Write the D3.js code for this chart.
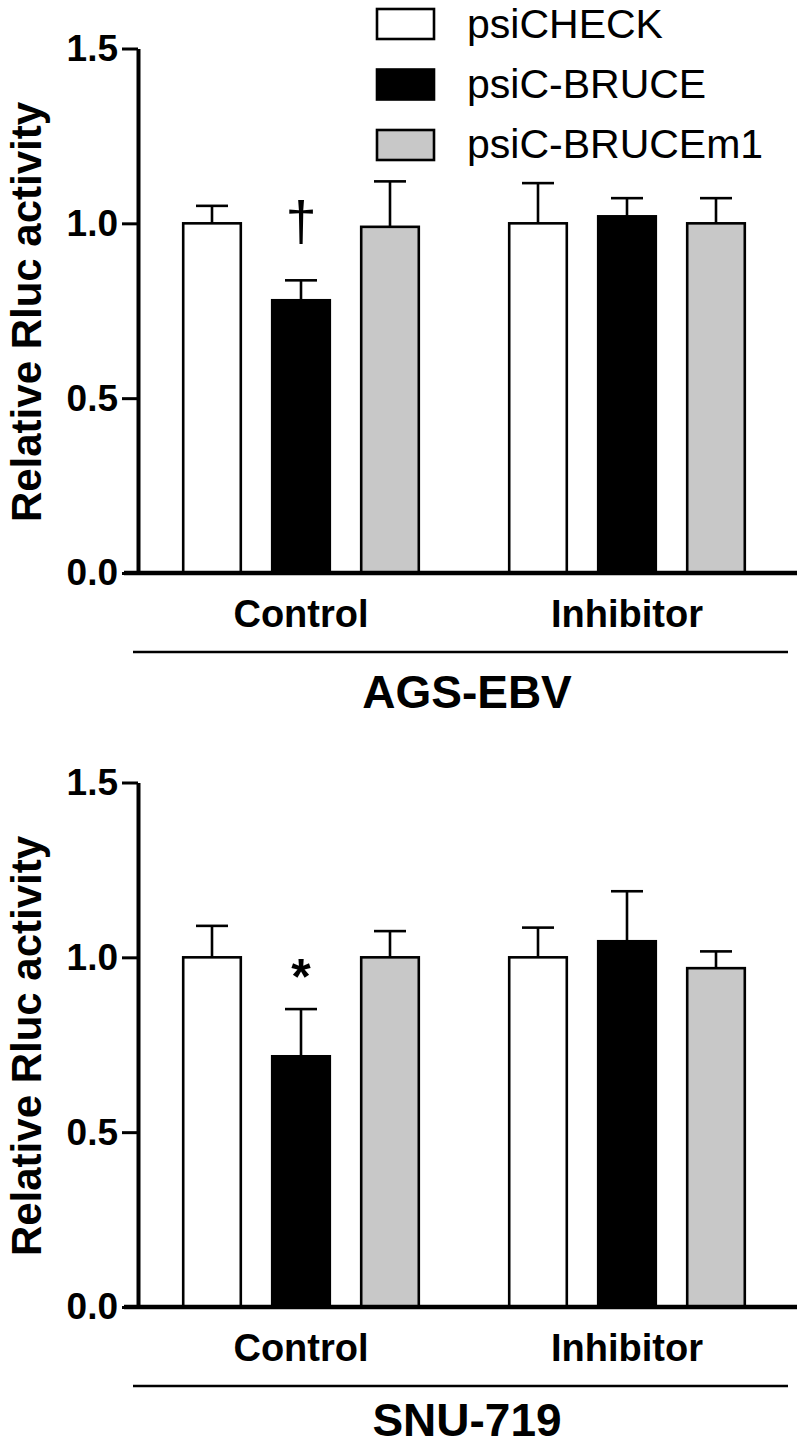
<!DOCTYPE html>
<html>
<head>
<meta charset="utf-8">
<script src="https://cdn.jsdelivr.net/npm/d3@7"></script>
<style>
  html, body { margin: 0; padding: 0; background: #fff; }
  svg { display: block; }
  text { font-family: "Liberation Sans", Arial, Helvetica, sans-serif; fill: #000; }
</style>
</head>
<body>
<svg id="chart" width="800" height="1447"></svg>
<script>
// ---- data ----
const groups = ["Control", "Inhibitor"];
const series = ["psiCHECK", "psiC-BRUCE", "psiC-BRUCEm1"];
const seriesColors = ["#ffffff", "#000000", "#c8c8c8"];
const yTicks = [0, 0.5, 1.0, 1.5];
const yLabel = "Relative Rluc activity";

// AGS-EBV panel: [Control, Inhibitor] per series
const agsMeans = {
  "psiCHECK":     [1.00, 1.00],
  "psiC-BRUCE":   [0.78, 1.02],
  "psiC-BRUCEm1": [0.99, 1.00]
};
const agsErrors = {
  "psiCHECK":     [0.05, 0.115],
  "psiC-BRUCE":   [0.057, 0.052],
  "psiC-BRUCEm1": [0.13, 0.072]
};
// SNU-719 panel
const snuMeans = {
  "psiCHECK":     [1.00, 1.00],
  "psiC-BRUCE":   [0.717, 1.046],
  "psiC-BRUCEm1": [1.00, 0.969]
};
const snuErrors = {
  "psiCHECK":     [0.09, 0.085],
  "psiC-BRUCE":   [0.135, 0.143],
  "psiC-BRUCEm1": [0.075, 0.048]
};

const panels = [
  { title: "AGS-EBV", titleY: 708, means: agsMeans, errors: agsErrors, mark: "\u2020", markGroup: "Control", markSeries: "psiC-BRUCE" },
  { title: "SNU-719", titleY: 702, means: snuMeans, errors: snuErrors, mark: "*", markGroup: "Control", markSeries: "psiC-BRUCE" }
];

// ---- drawing ----
const svg = d3.select("#chart");
const panelOffset = 734;

const x0 = d3.scaleBand().domain(groups).range([138, 790]).padding(0);
const x1 = d3.scaleBand().domain(series)
  .range([x0.bandwidth() / 2 - 133.5, x0.bandwidth() / 2 + 133.5])
  .paddingInner(0.326).paddingOuter(0.163);
const color = d3.scaleOrdinal().domain(series).range(seriesColors);

panels.forEach((p, k) => {
  const off = k * panelOffset;
  const g = svg.append("g").attr("transform", `translate(0,${off})`);
  const y = d3.scaleLinear().domain([0, 1.5]).range([573, 48.5]);

  const rows = [];
  groups.forEach((grp, gi) => {
    series.forEach(s => {
      rows.push({ group: grp, series: s, value: p.means[s][gi], err: p.errors[s][gi] });
    });
  });

  // error bars (upper only), drawn before bars
  const eb = g.append("g");
  rows.forEach(d => {
    const cx = x0(d.group) + x1(d.series) + x1.bandwidth() / 2;
    eb.append("line")
      .attr("x1", cx).attr("x2", cx)
      .attr("y1", y(d.value)).attr("y2", y(d.value + d.err))
      .attr("stroke", "#000").attr("stroke-width", 2.6);
    eb.append("line")
      .attr("x1", cx - 16).attr("x2", cx + 16)
      .attr("y1", y(d.value + d.err)).attr("y2", y(d.value + d.err))
      .attr("stroke", "#000").attr("stroke-width", 2.6);
  });

  // bars
  g.append("g").selectAll("rect").data(rows).join("rect")
    .attr("x", d => x0(d.group) + x1(d.series) + 1.2)
    .attr("width", x1.bandwidth() - 2.4)
    .attr("y", d => y(d.value))
    .attr("height", d => y(0) - y(d.value))
    .attr("fill", d => color(d.series))
    .attr("stroke", "#000").attr("stroke-width", 2.6);

  // y axis
  const yAxis = d3.axisLeft(y).tickValues(yTicks).tickFormat(d3.format(".1f"))
    .tickSize(16).tickSizeOuter(0).tickPadding(4);
  const ya = g.append("g").attr("transform", "translate(138,0)").call(yAxis);
  ya.select(".domain").attr("stroke", "#000").attr("stroke-width", 4);
  ya.selectAll(".tick line").attr("stroke", "#000").attr("stroke-width", 3);
  ya.selectAll(".tick text")
    .attr("font-size", 37).attr("font-weight", "bold")
    .attr("font-family", "'Liberation Sans', Arial, sans-serif")
    .attr("fill", "#000");

  // x baseline
  g.append("line")
    .attr("x1", 124).attr("x2", 797)
    .attr("y1", y(0)).attr("y2", y(0))
    .attr("stroke", "#000").attr("stroke-width", 4.5);

  // x axis group labels
  const xAxis = d3.axisBottom(x0).tickSize(0).tickPadding(27);
  const xa = g.append("g").attr("transform", `translate(0,${y(0)})`).call(xAxis);
  xa.select(".domain").remove();
  xa.selectAll(".tick text")
    .attr("font-size", 38).attr("font-weight", "bold")
    .attr("font-family", "'Liberation Sans', Arial, sans-serif")
    .attr("fill", "#000");

  // separator line and panel title
  g.append("line")
    .attr("x1", 133).attr("x2", 788)
    .attr("y1", 652).attr("y2", 652)
    .attr("stroke", "#000").attr("stroke-width", 2.5);
  g.append("text")
    .attr("x", 467).attr("y", p.titleY)
    .attr("text-anchor", "middle")
    .attr("font-size", 46).attr("font-weight", "bold")
    .text(p.title);

  // y label
  g.append("text")
    .attr("transform", `translate(41,312) rotate(-90)`)
    .attr("text-anchor", "middle")
    .attr("font-size", 42).attr("font-weight", "bold")
    .text(yLabel);

  // significance mark
  const gi = groups.indexOf(p.markGroup);
  const mv = p.means[p.markSeries][gi] + p.errors[p.markSeries][gi];
  const mx = x0(p.markGroup) + x1(p.markSeries) + x1.bandwidth() / 2;
  if (p.mark === "*") {
    g.append("text").attr("x", mx).attr("y", y(mv) - 15)
      .attr("text-anchor", "middle").attr("font-size", 50).attr("font-weight", "bold")
      .text(p.mark);
  } else {
    g.append("text").attr("x", mx).attr("y", y(mv) - 40)
      .attr("text-anchor", "middle").attr("font-size", 56)
      .text(p.mark);
  }
});

// legend
const legend = svg.append("g");
series.forEach((s, i) => {
  legend.append("rect")
    .attr("x", 377).attr("y", 9 + i * 60.5)
    .attr("width", 57).attr("height", 30)
    .attr("fill", color(s)).attr("stroke", "#000").attr("stroke-width", 2.6);
  legend.append("text")
    .attr("x", 467).attr("y", 38 + i * 60)
    .attr("font-size", 41)
    .text(s);
});
</script>
</body>
</html>
